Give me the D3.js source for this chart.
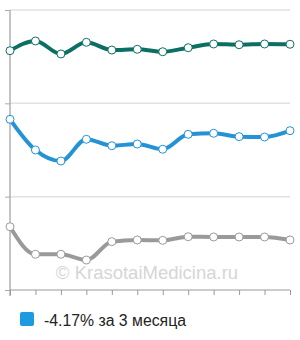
<!DOCTYPE html>
<html lang="en">
<head>
<meta charset="UTF-8">
<title>Chart</title>
<script src="https://cdn.jsdelivr.net/npm/d3@7"></script>
<style>
	body { margin: 0; background: #fff; font-family: "Liberation Sans", Arial, sans-serif; }
	svg { display: block; }
</style>
</head>
<body>
<div id="chart"></div>
<script>
	// values
	var months = [1, 2, 3, 4, 5, 6, 7, 8, 9, 10, 11, 12];
	var tealValues = [256.4, 266.8, 252.9, 265.4, 257.1, 257.9, 255.3, 259.6, 263.6, 262.8, 263.6, 263.3];
	var blueValues = [182.9, 150, 138.2, 161.5, 154.6, 156.4, 150.8, 166.8, 167.9, 164.3, 163.9, 170.7];
	var grayValues = [67.8, 38.3, 38.3, 32.1, 51.8, 53.6, 53.2, 57.1, 56.8, 56.8, 56.8, 53.6];
	var gridValues = [0, 100, 200, 300];
	var legendLabel = '-4.17% за 3 месяца';
	var watermark = '© KrasotaiMedicina.ru';

	var width = 300, height = 340;
	var svg = d3.select('#chart').append('svg')
		.attr('width', width)
		.attr('height', height);

	var x = d3.scaleLinear().domain([1, 12]).range([10, 290]);
	var y = d3.scaleLinear().domain([0, 300]).range([290, 10]);

	// gridlines
	svg.selectAll('.grid')
		.data(gridValues.slice(1))
		.enter().append('line')
		.attr('x1', x(1)).attr('x2', x(12))
		.attr('y1', function (d) { return y(d); })
		.attr('y2', function (d) { return y(d); })
		.style('stroke', '#e2e2e2')
		.style('stroke-width', 1.5);

	// left axis
	var yAxis = d3.axisLeft(y).tickValues(gridValues).tickSize(5).tickFormat('');
	var gy = svg.append('g').attr('transform', 'translate(10,0)').call(yAxis);
	gy.select('.domain').attr('d', 'M0,' + y(300) + 'V296').style('stroke', '#8a8a8a');
	gy.selectAll('.tick line').style('stroke', '#aaa');

	// bottom axis
	var xAxis = d3.axisBottom(x).tickValues(months).tickSize(5).tickFormat('');
	var gx = svg.append('g').attr('transform', 'translate(0,290)').call(xAxis);
	gx.select('.domain').attr('d', 'M' + x(1) + ',0H' + x(12)).style('stroke', '#999');
	gx.selectAll('.tick line').style('stroke', '#999');

	// watermark
	svg.append('text')
		.attr('x', 147)
		.attr('y', 279)
		.attr('text-anchor', 'middle')
		.style('font-size', '18.5px')
		.style('fill', '#d6d6d6')
		.text(watermark);

	var line = d3.line()
		.x(function (d, i) { return x(months[i]); })
		.y(function (d) { return y(d); })
		.curve(d3.curveMonotoneX);

	var series = [
		{ values: grayValues, color: '#9a9a9a' },
		{ values: blueValues, color: '#2393d6' },
		{ values: tealValues, color: '#0c6f63' }
	];

	series.forEach(function (s) {
		svg.append('path')
			.datum(s.values)
			.attr('d', line)
			.style('fill', 'none')
			.style('stroke', s.color)
			.style('stroke-width', 4)
			.style('stroke-linejoin', 'round');

		svg.selectAll(null)
			.data(s.values)
			.enter().append('circle')
			.attr('cx', function (d, i) { return x(months[i]); })
			.attr('cy', function (d) { return y(d); })
			.attr('r', 4)
			.style('fill', '#fff')
			.style('stroke', s.color)
			.style('stroke-width', 1);
	});

	// legend
	svg.append('rect')
		.attr('x', 20).attr('y', 312)
		.attr('width', 14).attr('height', 14)
		.attr('rx', 2)
		.style('fill', '#1e9ae0');

	svg.append('text')
		.attr('x', 44).attr('y', 325.5)
		.style('font-size', '15.8px')
		.style('fill', '#222')
		.text(legendLabel);
</script>
</body>
</html>
